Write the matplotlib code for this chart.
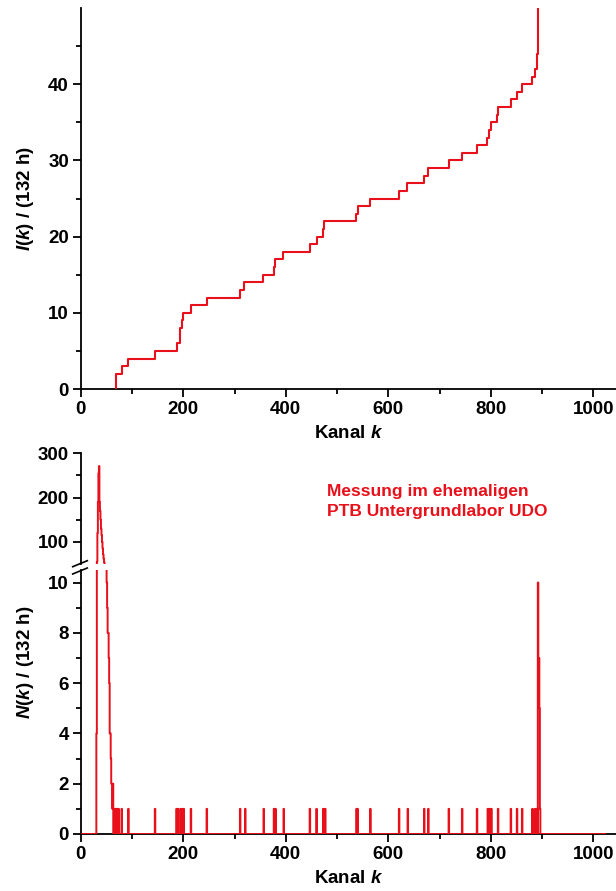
import numpy as np
import matplotlib
matplotlib.use('Agg')
import matplotlib.pyplot as plt
from matplotlib.lines import Line2D

plt.rcParams['font.family'] = ['Liberation Sans', 'DejaVu Sans']
plt.rcParams['font.weight'] = 'bold'
plt.rcParams['axes.labelweight'] = 'bold'
plt.rcParams['mathtext.fontset'] = 'custom'
plt.rcParams['mathtext.rm'] = 'Liberation Sans:bold'
plt.rcParams['mathtext.it'] = 'Liberation Sans:italic:bold'

red = '#e8101a'

# cumulative counts I(k): channel where the level starts, and the level
step_k = [69, 80, 93, 145, 187, 193, 194, 197, 199, 215, 246, 311, 319, 356, 377, 378,
          394, 447, 460, 472, 475, 537, 540, 564, 621, 637, 670, 678, 718, 744, 773,
          793, 796, 800, 812, 814, 839, 851, 860, 881, 887, 889, 890, 891, 892]
step_I = [2, 3, 4, 5, 6, 7, 8, 9, 10, 11, 12, 13, 14, 15, 16, 17,
          18, 19, 20, 21, 22, 23, 24, 25, 26, 27, 28, 29, 30, 31, 32,
          33, 34, 35, 36, 37, 38, 39, 40, 41, 42, 43, 44, 46, 60]

# spectrum N(k)
n_channels = 1024
low_peak_ch = [31, 32, 33, 34, 35, 36, 37, 38, 39, 40, 41, 42, 43, 44, 45, 46, 47,
               48, 49, 50, 51, 52, 53, 54, 55, 56, 57, 58, 59, 60, 61, 62, 63]
low_peak_n = [4, 55, 120, 190, 255, 271, 190, 170, 150, 130, 115, 100, 85, 72, 62, 54, 42,
              30, 18, 11, 10, 9, 8, 8, 7, 6, 4, 4, 3, 2, 2, 1, 2]
high_peak_ch = [892, 893, 894, 895, 896]
high_peak_n = [10, 7, 7, 5, 1]
single_ch = [66, 68, 70, 72, 74, 80, 93, 145, 187, 190, 195, 198, 201, 215, 246, 311, 321,
             357, 377, 380, 396, 447, 460, 473, 477, 538, 540, 565, 621, 638, 670, 678,
             718, 744, 773, 794, 796, 799, 801, 814, 839, 851, 861, 881, 886, 889, 890]

N = np.zeros(n_channels)
N[low_peak_ch] = low_peak_n
N[high_peak_ch] = high_peak_n
N[single_ch] += 1
k = np.arange(n_channels)

W, H = 616, 891
L = 80.7 / W
fs = 13.5
fig = plt.figure(figsize=(W / 100, H / 100), dpi=100)

def style(ax):
    for s in ['top', 'right']:
        ax.spines[s].set_visible(False)
    for s in ['left', 'bottom']:
        ax.spines[s].set_linewidth(1.3)
    ax.tick_params(which='major', direction='out', length=6, width=1.3, labelsize=fs, pad=2.5)
    ax.tick_params(which='minor', direction='out', length=3.5, width=1.3)

# top panel
ax1 = fig.add_axes([L, 1 - 389 / H, 1 - L, (389 - 8) / H])
ax1.step([69] + step_k, [0] + step_I, where='post', color=red, lw=1.5, zorder=3)
ax1.set_xlim(0, 1044)
ax1.set_ylim(0, 50)
ax1.set_xticks(range(0, 1001, 200))
ax1.set_xticks(range(100, 1001, 200), minor=True)
ax1.set_yticks(range(0, 41, 10))
ax1.set_yticks(range(5, 50, 10), minor=True)
style(ax1)
ax1.set_xlabel('Kanal $k$', fontsize=fs, labelpad=5)
fig.text(25 / W, 1 - 198 / H, '$I(k)$ / (132 h)', rotation=90, ha='center', va='center',
         fontsize=fs)

# bottom panel, broken y axis
ax_hi = fig.add_axes([L, 1 - 564 / H, 1 - L, (564 - 453.3) / H])
ax_lo = fig.add_axes([L, 1 - 834 / H, 1 - L, (834 - 570) / H])
for ax in (ax_hi, ax_lo):
    ax.plot(k, N, drawstyle='steps-mid', color=red, lw=1.4, zorder=3)
    ax.set_xlim(0, 1044)
    style(ax)
ax_hi.set_ylim(50, 300)
ax_hi.set_yticks([100, 200, 300])
ax_hi.set_yticks([150, 250], minor=True)
ax_hi.spines['bottom'].set_visible(False)
ax_hi.tick_params(axis='x', which='both', bottom=False, labelbottom=False)
ax_lo.set_ylim(0, 10.5)
ax_lo.set_yticks(range(0, 11, 2))
ax_lo.set_yticks(range(1, 10, 2), minor=True)
ax_lo.set_xticks(range(0, 1001, 200))
ax_lo.set_xticks(range(100, 1001, 200), minor=True)
ax_lo.set_xlabel('Kanal $k$', fontsize=fs, labelpad=5)

fig.text(25 / W, 1 - 662 / H, '$N(k)$ / (132 h)', rotation=90, ha='center', va='center',
         fontsize=fs)

# break marks on the y axis
for y0 in (566.7, 574.0):
    fig.add_artist(Line2D([72.7 / W, 87.3 / W], [1 - y0 / H, 1 - (y0 - 6) / H],
                          color='black', lw=1.2, transform=fig.transFigure))

fig.text(326.7 / W, 1 - 484 / H, 'Messung im ehemaligen\nPTB Untergrundlabor UDO',
         color=red, fontsize=12.5, ha='left', va='top', linespacing=1.45)

fig.savefig('out.png', dpi=100)
